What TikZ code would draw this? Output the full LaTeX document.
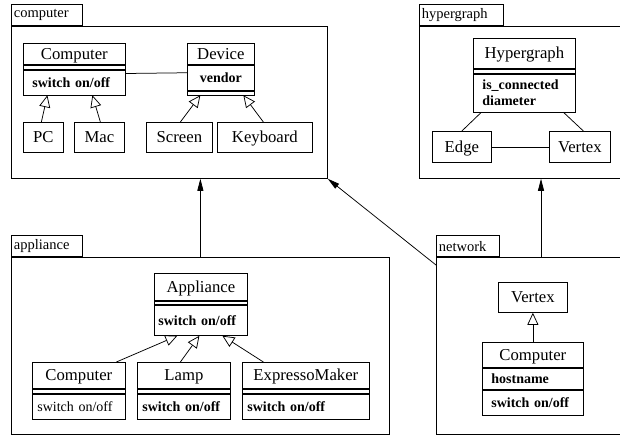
\documentclass[tikz,border=0pt]{standalone}
\usepackage{fontspec}
\setmainfont{Liberation Serif}
\usetikzlibrary{arrows.meta,positioning}

\begin{document}
\begin{tikzpicture}[x=1pt,y=-1pt,line width=0.75pt,
        pkg/.style={draw,anchor=north west,inner sep=0pt},
        pkgtab/.style={draw,inner xsep=2.5pt,inner ysep=0pt,minimum height=21pt,align=left,font=\fontsize{14.5}{16}\selectfont},
        cname/.style={draw,anchor=north west,inner sep=0pt,text height=11pt,text depth=0pt,font=\fontsize{16.7}{18}\selectfont},
        compart/.style={draw,inner sep=0pt,font=\bfseries\fontsize{14}{16}\selectfont},
        gen/.style={-{Triangle[open,length=12pt,width=11pt]}},
        dep/.style={-{Triangle[length=12pt,width=6pt]}}]
    \useasboundingbox (0,0) rectangle (620,434);

    % packages
    \node   [pkg,minimum width=316pt,minimum height=152pt]      (pcomp) at (11,26)  {};
    \node   [pkgtab,text width=66pt,above right=0pt of pcomp.north west] (tcomp) {computer};
    \node   [pkg,minimum width=206pt,minimum height=152pt]      (phyp)  at (419,26) {};
    \node   [pkgtab,text width=79pt,above right=0pt of phyp.north west]  (thyp)  {hypergraph};
    \node   [pkg,minimum width=378pt,minimum height=176.5pt]    (pappl) at (11,257) {};
    \node   [pkgtab,text width=66pt,above right=0pt of pappl.north west] (tappl) {appliance};
    \node   [pkg,minimum width=189pt,minimum height=176.5pt]    (pnet)  at (436,257) {};
    \node   [pkgtab,text width=58pt,above right=0pt of pnet.north west]  (tnet)  {network};

    % computer
    \node   [cname,minimum width=102pt,minimum height=21pt]     (cmp)   at (23,43)  {Computer};
    \node   [compart,minimum width=102pt,minimum height=4pt]    [below=0pt of cmp]   (cmp-a) {};
    \node   [compart,text width=84pt,inner xsep=9pt,minimum height=25pt,align=left] [below=0pt of cmp-a] (cmp-o) {switch on/off};
    \node   [cname,minimum width=67pt,minimum height=21pt]      (dev)   at (187,43) {Device};
    \node   [compart,minimum width=67pt,minimum height=25pt]    [below=0pt of dev]   (dev-a) {vendor};
    \node   [compart,minimum width=67pt,minimum height=4pt]     [below=0pt of dev-a] (dev-o) {};
    \node   [cname,minimum width=40pt,minimum height=30pt]      (pc)    at (23,122) {PC};
    \node   [cname,minimum width=50pt,minimum height=30pt]      (mac)   at (74,122) {Mac};
    \node   [cname,minimum width=66pt,minimum height=30pt]      (scr)   at (146,122) {Screen};
    \node   [cname,minimum width=95pt,minimum height=30pt]      (kbd)   at (217,122) {Keyboard};

    % hypergraph
    \node   [cname,minimum width=102pt,minimum height=30pt]     (hg)    at (473,38) {Hypergraph};
    \node   [compart,minimum width=102pt,minimum height=4pt]    [below=0pt of hg]    (hg-a) {};
    \node   [compart,text width=84pt,inner xsep=9pt,minimum height=38pt,align=left] [below=0pt of hg-a] (hg-o) {is\_connected\\diameter};
    \node   [cname,minimum width=59pt,minimum height=31pt]      (edge)  at (432,131) {Edge};
    \node   [cname,minimum width=61pt,minimum height=31pt]      (hvx)   at (549,131) {Vertex};

    % appliance
    \node   [cname,minimum width=93pt,minimum height=27pt]      (app)   at (154,273) {Appliance};
    \node   [compart,minimum width=93pt,minimum height=3.5pt]   [below=0pt of app]   (app-a) {};
    \node   [compart,text width=85pt,inner xsep=4pt,minimum height=30pt,align=left] [below=0pt of app-a] (app-o) {switch on/off};
    \node   [cname,minimum width=93pt,minimum height=26pt]      (acmp)  at (32,362) {Computer};
    \node   [compart,minimum width=93pt,minimum height=4pt]     [below=0pt of acmp]  (acmp-a) {};
    \node   [compart,text width=83pt,inner xsep=5pt,minimum height=25pt,align=left,font=\fontsize{14}{16}\selectfont] [below=0pt of acmp-a] (acmp-o) {switch on/off};
    \node   [cname,minimum width=93pt,minimum height=26pt]      (lamp)  at (137,362) {Lamp};
    \node   [compart,minimum width=93pt,minimum height=4pt]     [below=0pt of lamp]  (lamp-a) {};
    \node   [compart,text width=83pt,inner xsep=5pt,minimum height=25pt,align=left] [below=0pt of lamp-a] (lamp-o) {switch on/off};
    \node   [cname,minimum width=127pt,minimum height=26pt]     (expr)  at (242,362) {ExpressoMaker};
    \node   [compart,minimum width=127pt,minimum height=4pt]    [below=0pt of expr]  (expr-a) {};
    \node   [compart,text width=117pt,inner xsep=5pt,minimum height=25pt,align=left] [below=0pt of expr-a] (expr-o) {switch on/off};

    % network
    \node   [cname,minimum width=69pt,minimum height=30pt]      (nvx)   at (498,282) {Vertex};
    \node   [cname,minimum width=101pt,minimum height=25pt]     (ncmp)  at (482,342) {Computer};
    \node   [compart,text width=83pt,inner xsep=9pt,minimum height=21pt,align=left] [below=0pt of ncmp]   (ncmp-a) {hostname};
    \node   [compart,text width=83pt,inner xsep=9pt,minimum height=25pt,align=left] [below=0pt of ncmp-a] (ncmp-o) {switch on/off};

    \coordinate (netup) at ([xshift=105pt]pnet.north west);

    % inheritance and associations
    \path   ([xshift=-2pt]pc.north)     edge [gen] ([xshift=-27pt]cmp-o.south)
            ([xshift=1pt]mac.north)     edge [gen] ([xshift=18pt]cmp-o.south)
            ([xshift=1pt]scr.north)     edge [gen] ([xshift=-20.5pt]dev-o.south)
            ([xshift=-1.5pt]kbd.north)  edge [gen] ([xshift=22.5pt]dev-o.south)
            ([yshift=-4pt]cmp-o.north east) edge ([yshift=-8pt]dev-a.north west)
            ([xshift=-43pt]hg-o.south)  edge (edge.north)
            ([xshift=39pt]hg-o.south)   edge ([xshift=3.5pt]hvx.north)
            (edge)                      edge (hvx)
            ([xshift=37.5pt]acmp.north) edge [gen] ([xshift=-23.5pt]app-o.south)
            ([xshift=-3.5pt]lamp.north) edge [gen] ([xshift=-1.5pt]app-o.south)
            ([xshift=-42.5pt]expr.north) edge [gen] ([xshift=21.5pt]app-o.south)
            (ncmp)                      edge [gen] (nvx);

    % package dependencies
    \path   (pappl.north)               edge [dep] (pappl.north |- pcomp.south)
            ([yshift=-8pt]pnet.north west) edge [dep] (pcomp.south east)
            (netup)                     edge [dep] (netup |- phyp.south);
\end{tikzpicture}
\end{document}
